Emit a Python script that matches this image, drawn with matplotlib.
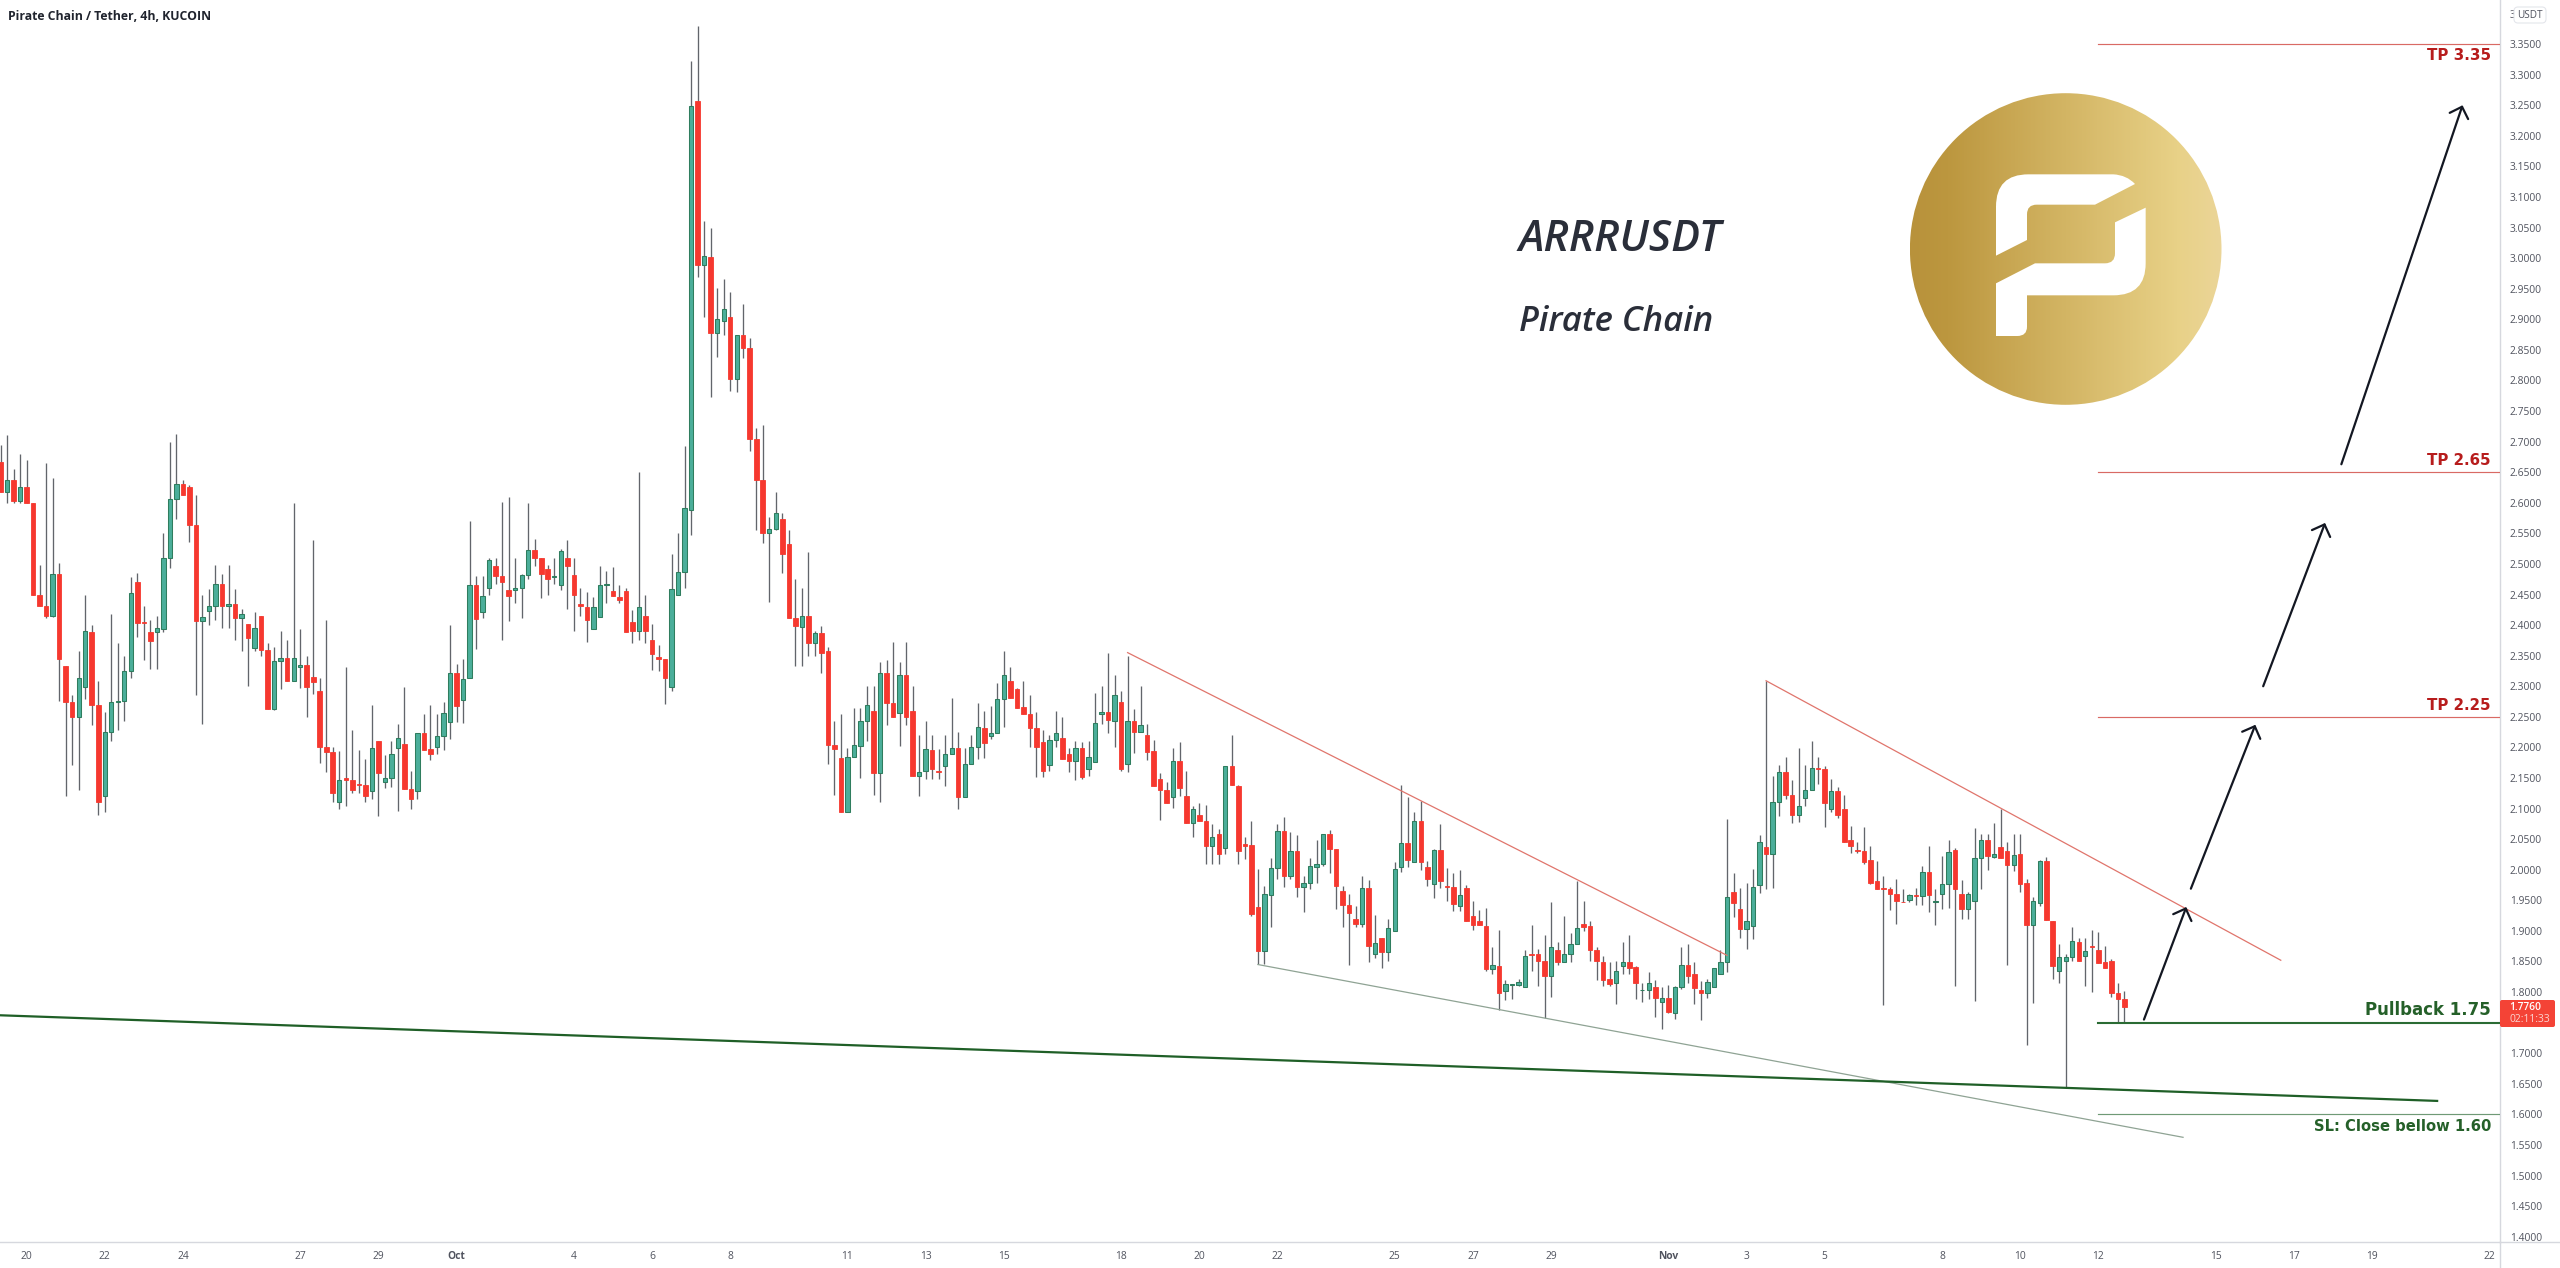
import numpy as np
import matplotlib
matplotlib.use("Agg")
import matplotlib.pyplot as plt
from matplotlib.colors import LinearSegmentedColormap
from matplotlib.lines import Line2D
from matplotlib.patches import Circle, FancyBboxPatch, PathPatch
from matplotlib.path import Path

# 4h candles
opens = [
    2.667,2.617,2.638,2.603,2.625,2.600,2.449,2.431,2.415,2.484,
    2.333,2.274,2.249,2.299,2.389,2.270,2.120,2.226,2.275,2.276,
    2.325,2.470,2.405,2.389,2.389,2.394,2.510,2.606,2.630,2.625,
    2.564,2.407,2.423,2.431,2.467,2.432,2.434,2.411,2.401,2.363,
    2.415,2.360,2.262,2.341,2.346,2.309,2.332,2.334,2.315,2.293,
    2.200,2.193,2.110,2.150,2.146,2.140,2.139,2.128,2.211,2.143,
    2.150,2.199,2.206,2.132,2.129,2.224,
    2.198,2.200,2.218,2.242,2.321,2.278,2.313,2.466,2.421,2.461,
    2.496,2.480,2.458,2.457,2.461,2.482,2.522,2.510,2.491,2.478,
    2.466,2.510,2.482,2.434,2.430,2.393,2.413,2.465,2.455,2.446,
    2.455,2.405,2.390,2.415,2.375,2.348,2.344,2.298,2.450,2.487,
    2.588,3.257,2.989,3.002,2.878,2.897,2.903,2.803,2.875,2.853,
    2.704,2.637,2.550,2.557,2.574,2.533,2.411,2.397,2.415,2.371,
    2.387,2.357,2.204,2.183,2.095,2.184,
    2.203,2.244,2.259,2.158,2.322,2.273,2.257,2.319,2.259,2.154,
    2.162,2.195,2.161,2.170,2.190,2.199,2.119,2.173,2.201,2.231,
    2.219,2.223,2.279,2.308,2.295,2.266,2.255,2.231,2.209,2.172,
    2.212,2.216,2.189,2.177,2.199,2.164,2.176,2.255,2.258,2.244,
    2.274,2.173,2.243,2.225,2.221,2.194,2.149,2.131,2.119,2.178,
    2.121,2.076,2.089,2.079,2.038,2.059,2.036,2.170,2.137,2.042,
    2.040,1.939,1.867,1.959,2.003,2.064,
    1.990,2.031,1.971,1.978,2.005,2.009,2.058,2.034,1.966,1.942,
    1.919,1.912,1.970,1.863,1.889,1.866,1.900,2.004,2.043,2.013,
    2.080,2.004,1.976,2.033,1.973,1.971,1.941,1.970,1.925,1.916,
    1.908,1.838,1.843,1.801,1.812,1.812,1.809,1.862,1.862,1.851,
    1.826,1.868,1.849,1.862,1.878,1.911,1.908,1.868,1.849,1.821,
    1.814,1.843,1.849,1.841,1.803,1.803,1.808,1.783,1.791,1.765,
    1.809,1.845,1.829,1.804,1.799,1.808,
    1.829,1.849,1.964,1.935,1.903,1.908,1.975,2.037,2.025,2.110,
    2.159,2.122,2.089,2.117,2.130,2.166,2.164,2.099,2.128,2.099,
    2.048,2.033,2.030,2.016,1.982,1.970,1.969,1.961,1.948,1.951,
    1.958,1.957,1.997,1.948,1.960,1.976,2.032,1.961,1.936,1.949,
    2.019,2.049,2.021,2.037,2.030,2.007,2.025,1.978,1.909,1.945,
    2.014,1.916,1.835,1.850,1.858,1.882,1.859,1.875,1.869,1.849,
    1.850,1.799,1.788,
]
closes = [
    2.617,2.638,2.603,2.625,2.600,2.449,2.431,2.415,2.484,2.345,
    2.275,2.249,2.313,2.390,2.270,2.111,2.226,2.275,2.276,2.325,
    2.453,2.404,2.403,2.374,2.396,2.510,2.606,2.630,2.612,2.564,
    2.407,2.414,2.431,2.467,2.431,2.434,2.411,2.418,2.379,2.396,
    2.360,2.263,2.341,2.347,2.309,2.347,2.334,2.299,2.307,2.200,
    2.193,2.125,2.147,2.146,2.131,2.139,2.120,2.199,2.158,2.150,
    2.190,2.215,2.132,2.116,2.224,2.195,
    2.190,2.218,2.256,2.321,2.267,2.312,2.466,2.410,2.448,2.506,
    2.481,2.470,2.448,2.461,2.482,2.522,2.510,2.484,2.476,2.481,
    2.521,2.496,2.450,2.431,2.409,2.429,2.466,2.468,2.447,2.441,
    2.389,2.390,2.429,2.390,2.352,2.344,2.313,2.459,2.487,2.591,
    3.248,2.989,3.003,2.878,2.901,2.917,2.803,2.875,2.853,2.704,
    2.637,2.551,2.557,2.584,2.516,2.411,2.399,2.415,2.371,2.387,
    2.354,2.204,2.198,2.095,2.184,2.204,
    2.244,2.269,2.158,2.322,2.273,2.249,2.319,2.249,2.154,2.159,
    2.197,2.164,2.159,2.190,2.199,2.119,2.173,2.200,2.234,2.207,
    2.223,2.279,2.318,2.281,2.264,2.255,2.231,2.200,2.161,2.212,
    2.223,2.181,2.177,2.199,2.151,2.184,2.240,2.258,2.245,2.286,
    2.164,2.243,2.225,2.236,2.193,2.137,2.131,2.109,2.178,2.134,
    2.076,2.099,2.079,2.038,2.053,2.025,2.170,2.139,2.031,2.039,
    1.928,1.867,1.961,2.003,2.064,1.990,
    2.031,1.971,1.978,2.006,2.009,2.059,2.034,1.974,1.942,1.930,
    1.911,1.970,1.875,1.881,1.866,1.905,2.002,2.043,2.016,2.080,
    2.012,1.985,2.033,1.982,1.971,1.944,1.959,1.916,1.909,1.909,
    1.838,1.844,1.799,1.813,1.813,1.817,1.859,1.860,1.851,1.826,
    1.873,1.849,1.862,1.879,1.904,1.907,1.868,1.851,1.820,1.813,
    1.834,1.849,1.840,1.814,1.804,1.814,1.791,1.791,1.767,1.809,
    1.845,1.826,1.806,1.799,1.817,1.840,
    1.849,1.955,1.945,1.903,1.916,1.971,2.045,2.025,2.110,2.159,
    2.122,2.089,2.105,2.130,2.166,2.164,2.109,2.128,2.090,2.045,
    2.039,2.030,2.013,1.979,1.969,1.968,1.960,1.949,1.947,1.958,
    1.957,1.997,1.958,1.949,1.976,2.029,1.969,1.935,1.960,2.020,
    2.049,2.023,2.025,2.020,2.007,2.024,1.977,1.909,1.949,2.014,
    1.917,1.843,1.858,1.858,1.883,1.851,1.867,1.874,1.848,1.840,
    1.798,1.788,1.776,
]
highs = [
    2.694,2.711,2.655,2.679,2.670,2.600,2.499,2.665,2.641,2.502,
    2.333,2.286,2.358,2.449,2.400,2.309,2.258,2.418,2.370,2.350,
    2.479,2.485,2.431,2.408,2.415,2.550,2.700,2.712,2.638,2.629,
    2.612,2.449,2.459,2.499,2.484,2.499,2.459,2.427,2.402,2.421,
    2.415,2.370,2.364,2.391,2.375,2.600,2.394,2.350,2.539,2.313,
    2.409,2.200,2.194,2.331,2.228,2.195,2.181,2.270,2.211,2.187,
    2.210,2.239,2.299,2.161,2.224,2.254,
    2.270,2.255,2.275,2.400,2.336,2.345,2.570,2.480,2.480,2.509,
    2.510,2.601,2.610,2.510,2.483,2.599,2.540,2.510,2.498,2.510,
    2.525,2.539,2.510,2.461,2.454,2.446,2.496,2.489,2.495,2.466,
    2.461,2.424,2.651,2.450,2.401,2.368,2.344,2.516,2.550,2.693,
    3.322,3.380,3.060,3.049,2.952,2.966,2.944,2.875,2.925,2.869,
    2.722,2.728,2.576,2.617,2.584,2.555,2.475,2.460,2.519,2.390,
    2.399,2.364,2.243,2.255,2.199,2.264,
    2.265,2.300,2.300,2.340,2.343,2.372,2.339,2.372,2.300,2.221,
    2.243,2.221,2.197,2.220,2.281,2.225,2.199,2.220,2.273,2.259,
    2.267,2.306,2.358,2.331,2.297,2.309,2.286,2.258,2.229,2.221,
    2.260,2.249,2.199,2.211,2.209,2.210,2.289,2.300,2.355,2.318,
    2.293,2.349,2.263,2.300,2.239,2.212,2.158,2.143,2.199,2.209,
    2.161,2.105,2.109,2.106,2.074,2.066,2.170,2.220,2.139,2.054,
    2.079,2.001,1.974,2.020,2.074,2.086,
    2.062,2.057,1.989,2.020,2.049,2.059,2.065,2.034,1.974,1.960,
    1.941,1.989,1.984,1.926,1.889,1.919,2.012,2.139,2.119,2.094,
    2.112,2.014,2.034,2.075,2.003,1.994,1.999,1.975,1.949,1.934,
    1.938,1.874,1.901,1.819,1.813,1.821,1.868,1.910,1.870,1.893,
    1.948,1.882,1.925,1.897,1.982,1.949,1.916,1.873,1.859,1.849,
    1.851,1.882,1.893,1.842,1.815,1.833,1.820,1.808,1.811,1.810,
    1.874,1.878,1.849,1.818,1.822,1.840,
    1.869,2.083,1.994,1.970,1.979,2.001,2.057,2.309,2.153,2.172,
    2.185,2.147,2.199,2.172,2.210,2.184,2.169,2.149,2.135,2.122,
    2.071,2.046,2.070,2.038,2.015,1.989,1.971,1.985,1.969,1.960,
    1.970,2.006,2.038,1.969,2.022,2.049,2.036,1.983,1.963,2.069,
    2.059,2.059,2.077,2.100,2.046,2.058,2.058,1.985,1.956,2.016,
    2.021,1.916,1.879,1.863,1.906,1.889,1.888,1.901,1.899,1.876,
    1.854,1.815,1.801,
]
lows = [
    2.617,2.600,2.600,2.600,2.600,2.449,2.431,2.411,2.413,2.276,
    2.120,2.171,2.130,2.279,2.237,2.090,2.095,2.211,2.229,2.243,
    2.314,2.381,2.343,2.329,2.329,2.389,2.494,2.574,2.612,2.536,
    2.285,2.239,2.400,2.408,2.396,2.396,2.375,2.358,2.300,2.358,
    2.350,2.263,2.261,2.296,2.309,2.309,2.297,2.250,2.287,2.175,
    2.160,2.110,2.100,2.105,2.126,2.126,2.110,2.115,2.088,2.133,
    2.135,2.096,2.132,2.100,2.115,2.195,
    2.180,2.190,2.195,2.213,2.242,2.240,2.313,2.361,2.411,2.450,
    2.468,2.375,2.406,2.436,2.411,2.475,2.497,2.444,2.450,2.468,
    2.458,2.426,2.390,2.415,2.372,2.393,2.413,2.436,2.447,2.436,
    2.389,2.371,2.375,2.371,2.326,2.325,2.271,2.292,2.450,2.461,
    2.547,2.969,2.904,2.773,2.839,2.875,2.783,2.781,2.836,2.685,
    2.555,2.535,2.438,2.555,2.486,2.411,2.333,2.333,2.350,2.350,
    2.321,2.173,2.122,2.095,2.095,2.184,
    2.150,2.210,2.122,2.111,2.237,2.249,2.203,2.237,2.154,2.120,
    2.148,2.149,2.149,2.137,2.190,2.100,2.119,2.173,2.181,2.183,
    2.213,2.223,2.234,2.281,2.264,2.255,2.200,2.152,2.152,2.162,
    2.200,2.181,2.160,2.146,2.149,2.154,2.176,2.239,2.224,2.200,
    2.162,2.160,2.191,2.225,2.179,2.137,2.081,2.109,2.101,2.121,
    2.076,2.053,2.079,2.010,2.010,2.010,2.026,2.139,2.010,2.018,
    1.925,1.846,1.846,1.906,1.985,1.971,
    1.985,1.955,1.931,1.968,1.979,2.006,1.995,1.935,1.907,1.844,
    1.907,1.907,1.849,1.855,1.840,1.850,1.900,1.996,2.004,2.013,
    2.000,1.974,1.954,1.970,1.949,1.933,1.933,1.916,1.901,1.909,
    1.834,1.829,1.771,1.787,1.789,1.810,1.809,1.834,1.810,1.758,
    1.792,1.845,1.849,1.849,1.878,1.900,1.850,1.820,1.810,1.810,
    1.781,1.829,1.829,1.788,1.784,1.788,1.760,1.739,1.766,1.756,
    1.805,1.815,1.781,1.754,1.790,1.808,
    1.829,1.832,1.923,1.888,1.870,1.887,1.962,1.969,1.970,2.088,
    2.115,2.076,2.078,2.104,2.130,2.140,2.070,2.095,2.084,2.045,
    2.027,2.027,2.010,1.976,1.969,1.779,1.934,1.912,1.947,1.948,
    1.943,1.943,1.931,1.910,1.936,1.938,1.810,1.920,1.920,1.786,
    1.968,2.000,2.020,2.020,1.844,1.998,1.964,1.714,1.782,1.941,
    1.917,1.821,1.815,1.645,1.850,1.851,1.810,1.800,1.848,1.840,
    1.792,1.750,1.750,
]

# time axis, in candles from the left edge
xtick_pos = [4,16,28,46,58,70,88,100,112,130,142,154,172,184,196,214,226,238,
             256,268,280,298,310,322,340,352,364,382]
xtick_labels = ["20","22","24","27","29","Oct","4","6","8","11","13","15","18","20",
                "22","25","27","29","Nov","3","5","8","10","12","15","17","19","22"]
ytick_vals = [round(1.40 + 0.05*k, 2) for k in range(41)]

# drawings: ((candle, price), (candle, price))
red_trends = [((173, 2.355), (265, 1.860)), ((271, 2.309), (350, 1.852))]
grey_trend = ((193, 1.845), (335, 1.5625))
green_trend = ((0, 1.762), (374, 1.622))
tp_levels = [3.35, 2.65, 2.25]
tp_labels = ["TP 3.35", "TP 2.65", "TP 2.25"]
tp_label_prices = [3.332, 2.669, 2.269]
pullback_level = 1.75
sl_level = 1.60
level_start = 322
arrows = [((329, 1.755), (335.5, 1.939)), ((336.2, 1.969), (346.1, 2.237)),
          ((347.3, 2.300), (356.8, 2.567)), ((359.3, 2.663), (377.9, 3.250))]

W, H = 2560, 1268
PANE_R, PANE_B = 2500, 1241.7
fig = plt.figure(figsize=(W/100, H/100), dpi=100, facecolor="white")
ax = fig.add_axes([0, (H-PANE_B)/H, PANE_R/W, PANE_B/H])

GREEN, GREEN_EDGE = "#4bae9a", "#2f7d5e"
RED = "#f6382f"
x = np.arange(len(opens))
o, h, l, c = map(np.array, (opens, highs, lows, closes))
up = c >= o
ax.vlines(x, l, h, color="#62656b", lw=0.95, zorder=2)
ax.bar(x[up], (c-o)[up], bottom=o[up], width=0.66, color=GREEN, edgecolor=GREEN_EDGE, linewidth=0.75, zorder=3)
ax.bar(x[~up], (c-o)[~up], bottom=o[~up], width=0.7, color=RED, edgecolor=RED, linewidth=0.6, zorder=3)

for a, b in red_trends:
    ax.plot([a[0], b[0]], [a[1], b[1]], color="#e0756c", lw=0.9, zorder=4)
ax.plot([grey_trend[0][0], grey_trend[1][0]], [grey_trend[0][1], grey_trend[1][1]], color="#8fa394", lw=0.9, zorder=4)
ax.plot([green_trend[0][0], green_trend[1][0]], [green_trend[0][1], green_trend[1][1]], color="#1f5f27", lw=1.6, zorder=4)

x_right = 383.65
for lev, lab, lab_p in zip(tp_levels, tp_labels, tp_label_prices):
    ax.plot([level_start, x_right], [lev, lev], color="#d96a64", lw=0.85, zorder=4)
    ax.text(382.2, lab_p, lab, ha="right", va="center", fontsize=10.8, fontweight="bold",
            color="#b71c1c", family="DejaVu Sans", zorder=5)
ax.plot([level_start, x_right], [pullback_level]*2, color="#2a6b33", lw=1.5, zorder=4)
ax.text(382.2, pullback_level+0.020, "Pullback 1.75", ha="right", va="center", fontsize=12.0,
        fontweight="bold", color="#256029", family="DejaVu Sans", zorder=5)
ax.plot([level_start, x_right], [sl_level]*2, color="#6f9a76", lw=0.85, zorder=4)
ax.text(382.4, sl_level-0.020, "SL: Close bellow 1.60", ha="right", va="center", fontsize=10.6,
        fontweight="bold", color="#256029", family="DejaVu Sans", zorder=5)

for start, tip in arrows:
    ax.annotate("", xy=tip, xytext=start, zorder=6,
                arrowprops=dict(arrowstyle="->,head_length=0.5,head_width=0.5", lw=1.6,
                                color="#131722", shrinkA=0, shrinkB=0, mutation_scale=14))

ax.text(233, 3.030, "ARRRUSDT", ha="left", va="center", fontsize=31, style="italic",
        fontweight="semibold", color="#2a2e39", family="Open Sans")
ax.text(233, 2.895, "Pirate Chain", ha="left", va="center", fontsize=25, style="italic",
        fontweight="semibold", color="#2a2e39", family="Open Sans")

ax.set_xlim(-0.077, 383.65)
ax.set_ylim(1.3918, 3.4221)
ax.set_xticks(xtick_pos, xtick_labels)
# 1.75 sits under the last-price tag and 3.40 under the USDT badge
ylabels = []
for v in ytick_vals:
    if v == 1.75:
        ylabels.append("")
    elif v == 3.40:
        ylabels.append("3")
    else:
        ylabels.append(f"{v:.4f}")
ax.set_yticks(ytick_vals, ylabels)
ax.yaxis.tick_right()
ax.tick_params(axis="both", length=0, labelsize=7.4, labelcolor="#50535e")
ax.tick_params(axis="y", pad=7)
ax.tick_params(axis="x", pad=7)
for t in ax.get_xticklabels() + ax.get_yticklabels():
    t.set_family("Open Sans")
for t in ax.get_xticklabels():
    if t.get_text() in ("Oct", "Nov"):
        t.set_fontweight("bold")
for s in ("top", "left"):
    ax.spines[s].set_visible(False)
for s in ("right", "bottom"):
    ax.spines[s].set_color("#d6d8de")
    ax.spines[s].set_linewidth(1.0)

fig.text(8/W, 1-17/H, "Pirate Chain / Tether, 4h, KUCOIN", fontsize=8.8, fontweight="bold",
         color="#20242e", family="Open Sans", va="center")

# pixel overlay for the logo and the price-scale furniture
ov = fig.add_axes([0, 0, 1, 1], facecolor="none")
ov.set_axis_off()
gold = LinearSegmentedColormap.from_list("gold", [(0, "#b8923b"), (0.12, "#bc973f"), (0.5, "#d3b564"),
                                                  (0.86, "#e8d187"), (1, "#ebd598")])
cx, cy, r = 2065.7, 249, 155.8
im = ov.imshow(np.linspace(0, 1, 300)[None, :], cmap=gold, extent=(cx-r, cx+r, cy+r, cy-r), aspect="auto")
im.set_clip_path(Circle((cx, cy), r, transform=ov.transData))


def logo_path(segs):
    verts, codes = [], []
    for code, pts in segs:
        for p in pts:
            verts.append((1900+p[0]/3, 60+p[1]/3))
            codes.append(code)
    return Path(verts, codes)


M, L2, C3 = Path.MOVETO, Path.LINETO, Path.CURVE3
upper = [(M, [(288, 587)]), (L2, [(288, 440)]), (C3, [(288, 343), (385, 343)]), (L2, [(640, 343)]),
         (C3, [(680, 345), (705, 372)]), (L2, [(585, 434), (410, 434)]), (C3, [(381, 434), (381, 463)]),
         (L2, [(381, 540), (288, 587)])]
lower = [(M, [(737, 443)]), (L2, [(737, 610)]), (C3, [(737, 706), (640, 706)]), (L2, [(381, 706), (381, 800)]),
         (C3, [(381, 828), (352, 828)]), (L2, [(288, 828), (288, 670), (405, 610), (615, 610)]),
         (C3, [(645, 610), (645, 580)]), (L2, [(645, 487), (737, 443)])]
for seg in (upper, lower):
    ov.add_patch(PathPatch(logo_path(seg), facecolor="white", edgecolor="none"))

# scale lines past the pane, USDT badge and last-price tag
ov.add_line(Line2D([PANE_R, W], [PANE_B, PANE_B], color="#d6d8de", lw=1.0))
ov.add_line(Line2D([PANE_R, PANE_R], [PANE_B, H], color="#d6d8de", lw=1.0))
ov.add_patch(FancyBboxPatch((2514, 7), 32, 16, boxstyle="round,pad=0,rounding_size=4", facecolor="white",
                            edgecolor="#e4e6eb", lw=0.8, zorder=5))
ov.text(2530, 15, "USDT", ha="center", va="center", fontsize=7.2, color="#50535e", family="Open Sans", zorder=6)
ov.add_patch(FancyBboxPatch((2500, 1000), 55, 27, boxstyle="round,pad=0,rounding_size=2", facecolor="#f44336",
                            edgecolor="none", zorder=5))
ov.text(2525.5, 1007.5, "1.7760", ha="center", va="center", fontsize=7.4, fontweight="semibold", color="white",
        family="Open Sans", zorder=6)
ov.text(2530, 1020, "02:11:33", ha="center", va="center", fontsize=7.4, color="#fbd5d2", family="Open Sans", zorder=6)
ov.set_xlim(0, W)
ov.set_ylim(H, 0)

fig.savefig("out.png", dpi=100, facecolor="white")
